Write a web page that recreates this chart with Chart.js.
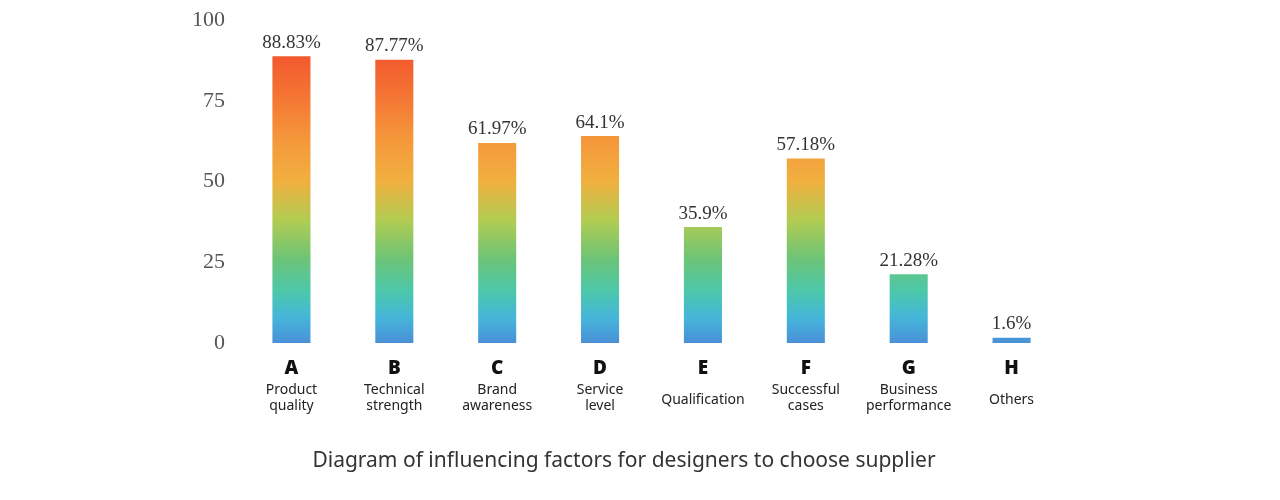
<!DOCTYPE html>
<html>
<head>
<meta charset="utf-8">
<script src="https://cdn.jsdelivr.net/npm/chart.js@4"></script>
<style>
  html, body { margin: 0; padding: 0; background: #fff; }
  #wrap { width: 1280px; height: 500px; }
</style>
</head>
<body>
<div id="wrap"><canvas id="myChart"></canvas></div>
<script>
const letters = ['A', 'B', 'C', 'D', 'E', 'F', 'G', 'H'];
const descriptions = [
    ['Product', 'quality'],
    ['Technical', 'strength'],
    ['Brand', 'awareness'],
    ['Service', 'level'],
    ['Qualification'],
    ['Successful', 'cases'],
    ['Business', 'performance'],
    ['Others']
];
const values = [88.83, 87.77, 61.97, 64.1, 35.9, 57.18, 21.28, 1.6];
const valueLabels = ['88.83%', '87.77%', '61.97%', '64.1%', '35.9%', '57.18%', '21.28%', '1.6%'];
const yTicks = [0, 25, 50, 75, 100];

// gradient stops by value (0 = blue at bottom, ~90 = orange red)
const gradientStops = [
    [0, '#4a90d6'],
    [8, '#45b6da'],
    [16, '#4cc8aa'],
    [26, '#6cc477'],
    [38, '#b2cc52'],
    [50, '#f0b03f'],
    [63, '#f5983b'],
    [76, '#f47634'],
    [90, '#f2562c']
];

function barGradient(context) {
    const chart = context.chart;
    const y = chart.scales.y;
    if (!chart.chartArea || !y) return '#f5983b';
    const y0 = y.getPixelForValue(0);
    const y1 = y.getPixelForValue(90);
    const g = chart.ctx.createLinearGradient(0, y0, 0, y1);
    gradientStops.forEach(s => g.addColorStop(s[0] / 90, s[1]));
    return g;
}

const extraText = {
    id: 'extraText',
    afterDatasetsDraw(chart) {
        const ctx = chart.ctx;
        const meta = chart.getDatasetMeta(0);
        ctx.save();
        ctx.textAlign = 'center';
        ctx.textBaseline = 'bottom';
        ctx.fillStyle = '#333';
        ctx.font = '19px "Liberation Serif"';
        meta.data.forEach((bar, i) => {
            ctx.fillText(valueLabels[i], bar.x, bar.y - 4);
        });
        // descriptions under the letters
        const xs = chart.scales.x;
        ctx.textBaseline = 'middle';
        ctx.fillStyle = '#222';
        ctx.font = '14px "Noto Sans"';
        descriptions.forEach((lines, i) => {
            const x = xs.getPixelForTick(i);
            if (lines.length === 1) {
                ctx.fillText(lines[0], x, 400);
            } else {
                ctx.fillText(lines[0], x, 390);
                ctx.fillText(lines[1], x, 406);
            }
        });
        ctx.restore();
    }
};

const ctx = document.getElementById('myChart').getContext('2d');

const myChart = new Chart(ctx, {
    type: 'bar',
    data: {
        labels: letters,
        datasets: [{
            data: values,
            backgroundColor: barGradient,
            borderWidth: 0,
            barPercentage: 0.37,
            categoryPercentage: 1
        }]
    },
    options: {
        responsive: true,
        maintainAspectRatio: false,
        animation: false,
        layout: {
            padding: { left: 185, right: 217, top: 9, bottom: 26 }
        },
        scales: {
            x: {
                grid: { display: false },
                border: { display: false },
                ticks: {
                    color: '#111',
                    padding: 6,
                    font: { family: 'Noto Sans', size: 19, weight: '900' }
                }
            },
            y: {
                min: 0,
                max: 100,
                afterBuildTicks(scale) {
                    scale.ticks = yTicks.map(v => ({ value: v }));
                },
                grid: { display: false },
                border: { display: false },
                ticks: {
                    color: '#555',
                    padding: 7,
                    font: { family: 'Liberation Serif', size: 22 }
                }
            }
        },
        plugins: {
            legend: { display: false },
            tooltip: { enabled: false },
            title: {
                display: true,
                position: 'bottom',
                text: 'Diagram of influencing factors for designers to choose supplier',
                color: '#333',
                padding: { top: 63, bottom: 0 },
                font: { family: 'Noto Sans', size: 21, weight: 'normal' }
            }
        }
    },
    plugins: [extraText]
});
</script>
</body>
</html>
